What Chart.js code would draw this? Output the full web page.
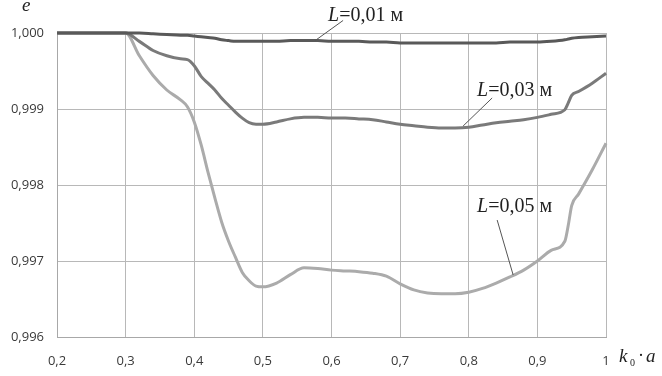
<!DOCTYPE html>
<html>
<head>
<meta charset="utf-8">
<script src="https://cdn.jsdelivr.net/npm/chart.js@4"></script>
<style>
  body { margin: 0; background: #fff; }
  #wrap { width: 662px; height: 376px; }
</style>
</head>
<body>
<div id="wrap"><canvas id="chart" width="662" height="376"></canvas></div>
<script>
// k0*a values shared by all three curves
const kA = [0.2, 0.25, 0.3, 0.32, 0.34, 0.36, 0.38, 0.39, 0.4, 0.41, 0.42, 0.43, 0.44, 0.45,
  0.46, 0.47, 0.48, 0.49, 0.5, 0.52, 0.54, 0.56, 0.58, 0.6, 0.62, 0.64, 0.66, 0.68, 0.7,
  0.72, 0.74, 0.76, 0.78, 0.8, 0.82, 0.84, 0.86, 0.88, 0.9, 0.92, 0.94, 0.945, 0.95, 0.96,
  0.98, 1.0];

const eL01 = [1.0, 1.0, 1.0, 1.0, 0.99999, 0.99998, 0.99997, 0.99997, 0.99996, 0.99995,
  0.99994, 0.99993, 0.99991, 0.9999, 0.99989, 0.99989, 0.99989, 0.99989, 0.99989, 0.99989,
  0.9999, 0.9999, 0.9999, 0.99989, 0.99989, 0.99989, 0.99988, 0.99988, 0.99987, 0.99987,
  0.99987, 0.99987, 0.99987, 0.99987, 0.99987, 0.99987, 0.99988, 0.99988, 0.99988, 0.99989,
  0.99991, 0.99992, 0.99993, 0.99994, 0.99995, 0.99996];

const eL03 = [1.0, 1.0, 1.0, 0.99989, 0.99977, 0.9997, 0.99966, 0.99965, 0.99957, 0.99943,
  0.99934, 0.99925, 0.99914, 0.99905, 0.99896, 0.99888, 0.99882, 0.9988, 0.9988, 0.99883,
  0.99887, 0.99889, 0.99889, 0.99888, 0.99888, 0.99887, 0.99886, 0.99883, 0.9988, 0.99878,
  0.99876, 0.99875, 0.99875, 0.99876, 0.99879, 0.99882, 0.99884, 0.99886, 0.99889, 0.99893,
  0.99899, 0.99908, 0.99918, 0.99923, 0.99934, 0.99947];

const eL05 = [1.0, 1.0, 1.0, 0.9997, 0.99944, 0.99925, 0.99912, 0.99903, 0.99883, 0.99853,
  0.99817, 0.99783, 0.99751, 0.99726, 0.99705, 0.99685, 0.99674, 0.99667, 0.99666, 0.99671,
  0.99682, 0.99691, 0.9969, 0.99688, 0.99687, 0.99686, 0.99684, 0.9968, 0.9967, 0.99662,
  0.99658, 0.99657, 0.99657, 0.99659, 0.99664, 0.99671, 0.99679, 0.99688, 0.997, 0.99714,
  0.99726, 0.99747, 0.99773, 0.99788, 0.9982, 0.99855];

// curve labels: text position and leader line, in data units
const labels = [
  { num: '0,01', x: 0.595, y: 1.000158, lx1: 0.6169, ly1: 1.000165, lx2: 0.5761, ly2: 0.99990 },
  { num: '0,03', x: 0.8122, y: 0.999171, lx1: 0.8341, ly1: 0.999145, lx2: 0.7918, ly2: 0.998776 },
  { num: '0,05', x: 0.8122, y: 0.997644, lx1: 0.8414, ly1: 0.997539, lx2: 0.8647, ly2: 0.996816 }
];

function pts(ys) {
  return kA.map((k, i) => ({ x: k, y: ys[i] }));
}

const textPlugin = {
  id: 'texts',
  afterDatasetsDraw(chart) {
    const ctx = chart.ctx;
    const sx = chart.scales.x, sy = chart.scales.y;
    ctx.save();
    // leader lines
    ctx.strokeStyle = '#555';
    ctx.lineWidth = 1;
    labels.forEach(l => {
      ctx.beginPath();
      ctx.moveTo(sx.getPixelForValue(l.lx1), sy.getPixelForValue(l.ly1));
      ctx.lineTo(sx.getPixelForValue(l.lx2), sy.getPixelForValue(l.ly2));
      ctx.stroke();
    });
    ctx.fillStyle = '#222';
    ctx.textBaseline = 'alphabetic';
    ctx.textAlign = 'left';
    labels.forEach(l => {
      let px = sx.getPixelForValue(l.x);
      const py = sy.getPixelForValue(l.y);
      ctx.font = 'italic 20px "Liberation Serif"';
      ctx.fillText('L', px, py);
      px += ctx.measureText('L').width;
      ctx.font = '20px "Liberation Serif"';
      ctx.fillText('=' + l.num + ' м', px, py);
    });
    // axis titles
    ctx.font = 'italic 19px "Liberation Serif"';
    ctx.fillText('e', 22, 11);
    ctx.fillText('k', 619, 362);
    ctx.font = '10px "Liberation Serif"';
    ctx.fillText('0', 630, 366);
    ctx.font = '18px "Liberation Serif"';
    ctx.fillText('·', 638, 361);
    ctx.font = 'italic 19px "Liberation Serif"';
    ctx.fillText('a', 646, 362);
    ctx.restore();
  }
};

const ds = (label, ys, color) => ({
  label: label,
  data: pts(ys),
  borderColor: color,
  borderWidth: 3,
  pointRadius: 0,
  fill: false,
  clip: false,
  cubicInterpolationMode: 'monotone'
});

new Chart(document.getElementById('chart'), {
  type: 'line',
  data: {
    datasets: [
      ds('L=0,01 м', eL01, '#595959'),
      ds('L=0,03 м', eL03, '#7a7a7a'),
      ds('L=0,05 м', eL05, '#ababab')
    ]
  },
  options: {
    responsive: false,
    animation: false,
    layout: { padding: { top: 33, right: 56, left: 0, bottom: 0 } },
    plugins: { legend: { display: false }, tooltip: { enabled: false } },
    scales: {
      x: {
        type: 'linear',
        min: 0.2,
        max: 1,
        afterFit: s => { s.height = 39; },
        grid: { color: '#b8b8b8', drawTicks: false },
        border: { color: '#a8a8a8' },
        ticks: {
          stepSize: 0.1,
          padding: 16,
          color: '#3a3a3a',
          font: { family: 'Open Sans', size: 13 },
          callback: v => (Math.abs(v - 1) < 1e-9 ? '1' : v.toFixed(1).replace('.', ','))
        }
      },
      y: {
        min: 0.996,
        max: 1.0,
        afterFit: s => { s.width = 57; },
        grid: { color: '#b8b8b8', drawTicks: false },
        border: { color: '#a8a8a8' },
        ticks: {
          stepSize: 0.001,
          padding: 13,
          color: '#3a3a3a',
          font: { family: 'Open Sans', size: 13 },
          callback: v => v.toFixed(3).replace('.', ',')
        }
      }
    }
  },
  plugins: [textPlugin]
});
</script>
</body>
</html>
